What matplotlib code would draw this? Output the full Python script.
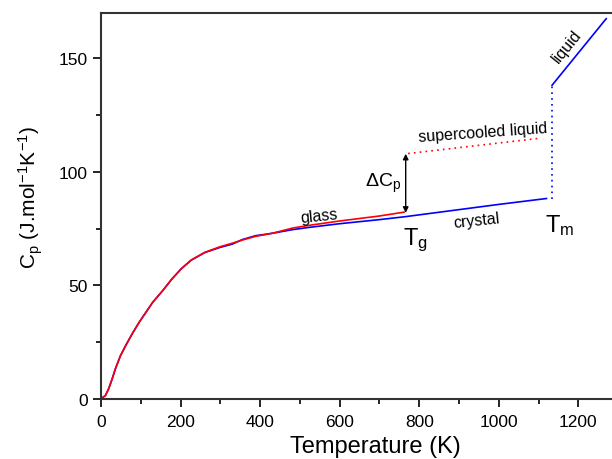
import matplotlib
matplotlib.use("Agg")
import matplotlib.pyplot as plt
import numpy as np

plt.rcParams['font.family'] = ['Liberation Sans', 'DejaVu Sans']
plt.rcParams['mathtext.fontset'] = 'custom'
plt.rcParams['mathtext.rm'] = 'Liberation Sans'
plt.rcParams['mathtext.it'] = 'Liberation Sans'

# crystal (blue)
T_crystal = [1, 11, 19, 28, 36, 49, 62, 79, 96, 113, 130, 155, 178, 202, 227, 261, 300, 330,
             355, 388, 431, 482, 524, 600, 700, 765, 900, 1000, 1120]
cp_crystal = [0.3, 1.5, 4.4, 8.8, 13.2, 19.1, 23.5, 28.9, 33.8, 38.2, 42.6, 47.7, 52.8, 57.4,
              61.2, 64.5, 66.8, 68.2, 70.2, 71.9, 73.0, 74.6, 75.6, 77.2, 79.0, 80.3, 83.4, 85.7, 88.3]

# glass (red)
T_glass = [1, 11, 19, 28, 36, 49, 62, 79, 96, 113, 130, 155, 178, 202, 227, 261, 300, 330,
           355, 388, 431, 482, 524, 600, 700, 762]
cp_glass = [0.3, 1.5, 4.4, 8.8, 13.2, 19.1, 23.5, 28.9, 33.8, 38.2, 42.6, 47.7, 52.8, 57.4,
            61.2, 64.6, 67.1, 68.6, 70.0, 71.6, 73.0, 75.3, 76.5, 78.4, 80.6, 82.3]

# supercooled liquid (red dotted)
T_scl = [772, 1106]
cp_scl = [108.1, 114.9]

# melting jump (blue dotted)
T_melt = [1134, 1134]
cp_melt = [88.3, 138.2]

# liquid (blue)
T_liq = [1134, 1270]
cp_liq = [138.2, 167.5]

Tg = 766
cp_arrow = [108.0, 82.0]

fig = plt.figure(figsize=(6.12, 4.6), dpi=100)
ax = fig.add_axes([101 / 612, 60 / 460, 1 - 101 / 612 + 0.01, 386 / 460])

ax.plot(T_crystal, cp_crystal, color='#0000ff', lw=1.2)
ax.plot(T_glass, cp_glass, color='#ff0000', lw=1.2)
ax.plot(T_scl, cp_scl, color='#ff0000', lw=1.2, linestyle=(0, (1, 2.5)))
ax.plot(T_melt, cp_melt, color='#0000ff', lw=1.2, linestyle=(0, (1, 2.5)))
ax.plot(T_liq, cp_liq, color='#0000ff', lw=1.2)

ax.annotate('', xy=(Tg, cp_arrow[1]), xytext=(Tg, cp_arrow[0]),
            arrowprops=dict(arrowstyle='<|-|>', color='black', lw=1,
                            mutation_scale=8, shrinkA=0, shrinkB=0))

ax.text(754, 95.5, r'$\Delta$C$_\mathregular{p}$', fontsize=14, ha='right', va='center')
ax.text(548, 80.8, 'glass', fontsize=11.5, rotation=6, ha='center', va='center')
ax.text(945, 78.8, 'crystal', fontsize=11.5, rotation=6, ha='center', va='center')
ax.text(960, 117.5, 'supercooled liquid', fontsize=11.5, rotation=4, ha='center', va='center')
ax.text(1172, 155.5, 'liquid', fontsize=11.5, rotation=51, ha='center', va='center')
ax.text(790, 70.5, r'T$_\mathregular{g}$', fontsize=17, ha='center', va='center')
ax.text(1152, 77, r'T$_\mathregular{m}$', fontsize=17, ha='center', va='center')

ax.set_xlim(0, 1300)
ax.set_ylim(0, 170)
ax.set_xticks([0, 200, 400, 600, 800, 1000, 1200])
ax.set_xticks(np.arange(100, 1300, 200), minor=True)
ax.set_yticks([0, 50, 100, 150])
ax.set_yticks([25, 75, 125], minor=True)
ax.tick_params(which='major', direction='out', length=6, width=1.2, labelsize=12.5)
ax.tick_params(axis='x', which='major', pad=5)
ax.tick_params(which='minor', direction='out', length=3.5, width=1.2)
ax.spines['right'].set_visible(False)
for s in ['left', 'top', 'bottom']:
    ax.spines[s].set_linewidth(1.5)
    ax.spines[s].set_color('#333333')

ax.set_xlabel('Temperature (K)', fontsize=17)
ax.set_ylabel(r'C$_\mathregular{p}$ (J.mol$^\mathregular{-1}$K$^\mathregular{-1}$)', fontsize=15)
ax.xaxis.set_label_coords(0.53, -0.094)
ax.yaxis.set_label_coords(-0.108, 0.525)

fig.savefig('out.png', dpi=100)
